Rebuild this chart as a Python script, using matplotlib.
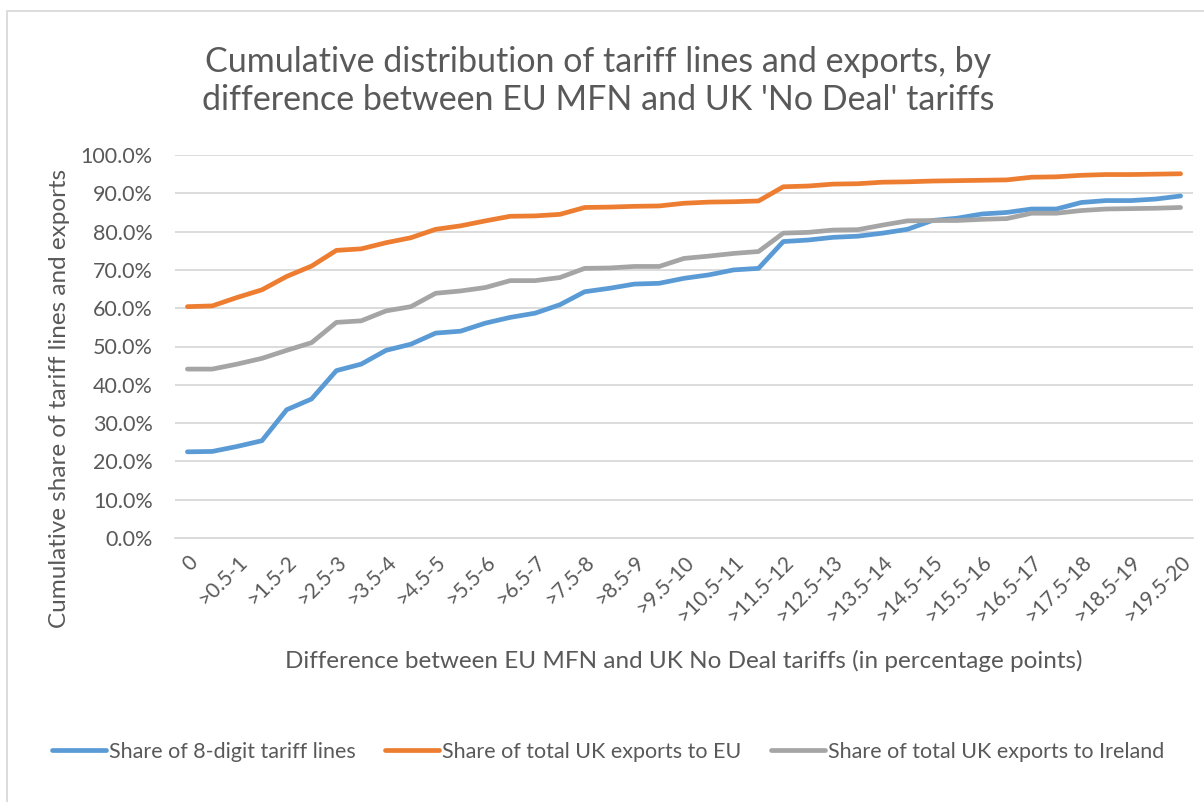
import matplotlib
matplotlib.use("Agg")
import matplotlib.pyplot as plt
from matplotlib.patches import Rectangle
from matplotlib.ticker import FuncFormatter, MultipleLocator

plt.rcParams['font.family'] = ['Lato', 'DejaVu Sans']

categories = ["0", ">0-0.5", ">0.5-1", ">1-1.5", ">1.5-2", ">2-2.5", ">2.5-3",
              ">3-3.5", ">3.5-4", ">4-4.5", ">4.5-5", ">5-5.5", ">5.5-6",
              ">6-6.5", ">6.5-7", ">7-7.5", ">7.5-8", ">8-8.5", ">8.5-9",
              ">9-9.5", ">9.5-10", ">10-10.5", ">10.5-11", ">11-11.5",
              ">11.5-12", ">12-12.5", ">12.5-13", ">13-13.5", ">13.5-14",
              ">14-14.5", ">14.5-15", ">15-15.5", ">15.5-16", ">16-16.5",
              ">16.5-17", ">17-17.5", ">17.5-18", ">18-18.5", ">18.5-19",
              ">19-19.5", ">19.5-20"]

tariff_lines = [22.5, 22.6, 23.9, 25.4, 33.5, 36.3, 43.7, 45.4, 49.0, 50.6,
                53.5, 54.0, 56.1, 57.6, 58.7, 60.9, 64.3, 65.2, 66.3, 66.5,
                67.8, 68.7, 70.0, 70.4, 77.4, 77.8, 78.5, 78.8, 79.6, 80.6,
                82.9, 83.5, 84.6, 85.0, 85.9, 85.9, 87.6, 88.1, 88.1, 88.5,
                89.3]
exports_eu = [60.4, 60.6, 62.8, 64.8, 68.3, 71.0, 75.1, 75.5, 77.1, 78.4,
              80.6, 81.5, 82.8, 84.0, 84.1, 84.5, 86.3, 86.4, 86.6, 86.7,
              87.4, 87.7, 87.8, 88.0, 91.7, 91.9, 92.4, 92.5, 92.9, 93.0,
              93.2, 93.3, 93.4, 93.5, 94.2, 94.3, 94.7, 94.9, 94.9, 95.0,
              95.1]
exports_ie = [44.1, 44.1, 45.4, 46.9, 49.0, 51.0, 56.3, 56.7, 59.3, 60.4,
              63.9, 64.5, 65.4, 67.2, 67.2, 68.0, 70.4, 70.5, 70.9, 70.9,
              73.0, 73.6, 74.3, 74.8, 79.6, 79.8, 80.4, 80.5, 81.7, 82.8,
              82.9, 82.9, 83.2, 83.4, 84.8, 84.8, 85.5, 85.9, 86.0, 86.1,
              86.3]

labels = ["Share of 8-digit tariff lines", "Share of total UK exports to EU",
          "Share of total UK exports to Ireland"]
colors = ["#5B9BD5", "#ED7D31", "#A5A5A5"]
txt = "#595959"

W, H = 1204, 802
fig = plt.figure(figsize=(W / 100, H / 100), dpi=100)
fig.patches.append(Rectangle((7 / W, -0.1), 1.2, 1 - 11 / H + 0.1,
                             transform=fig.transFigure, fill=False,
                             edgecolor="#D9D9D9", linewidth=1.3))

ax = fig.add_axes([175 / W, 1 - 538 / H, 1018 / W, 383 / H])
x = list(range(len(categories)))
for vals, lab, col in zip([tariff_lines, exports_eu, exports_ie], labels, colors):
    ax.plot(x, vals, color=col, linewidth=3.4, solid_capstyle="round",
            solid_joinstyle="round", label=lab)

ax.set_xlim(-0.5, len(categories) - 0.5)
ax.set_ylim(0, 100)
ax.yaxis.set_major_locator(MultipleLocator(10))
ax.yaxis.set_major_formatter(FuncFormatter(lambda v, p: f"{v:.1f}%"))
ax.grid(axis="y", color="#D9D9D9", linewidth=1.3)
ax.set_axisbelow(True)
for s in ["top", "right", "left"]:
    ax.spines[s].set_visible(False)
ax.spines["bottom"].set_color("#D9D9D9")
ax.spines["bottom"].set_linewidth(1.3)
ax.tick_params(length=0, labelcolor=txt)
ax.tick_params(axis="y", pad=16, labelsize=15.5)

ax.set_xticks(x[::2])
ax.set_xticklabels(categories[::2], rotation=45, ha="right",
                   rotation_mode="anchor")
ax.tick_params(axis="x", pad=10, labelsize=15)

ax.set_xlabel("Difference between EU MFN and UK No Deal tariffs (in percentage points)",
              fontsize=17.5, color=txt, labelpad=17)
fig.text(60 / W, 1 - 398 / H, "Cumulative share of tariff lines and exports",
         rotation=90, ha="center", va="center", fontsize=17.5, color=txt)

fig.text(598 / W, 1 - 81 / H,
         "Cumulative distribution of tariff lines and exports, by\n"
         "difference between EU MFN and UK 'No Deal' tariffs",
         ha="center", va="center", fontsize=24.5, color=txt, linespacing=1.2)

fig.legend(loc="center", bbox_to_anchor=(608 / W, 1 - 752 / H), ncol=3,
           frameon=False, fontsize=15.5, labelcolor=txt, handlelength=2.5,
           handletextpad=0.12, columnspacing=1.4)

fig.savefig("out.png", dpi=100)
